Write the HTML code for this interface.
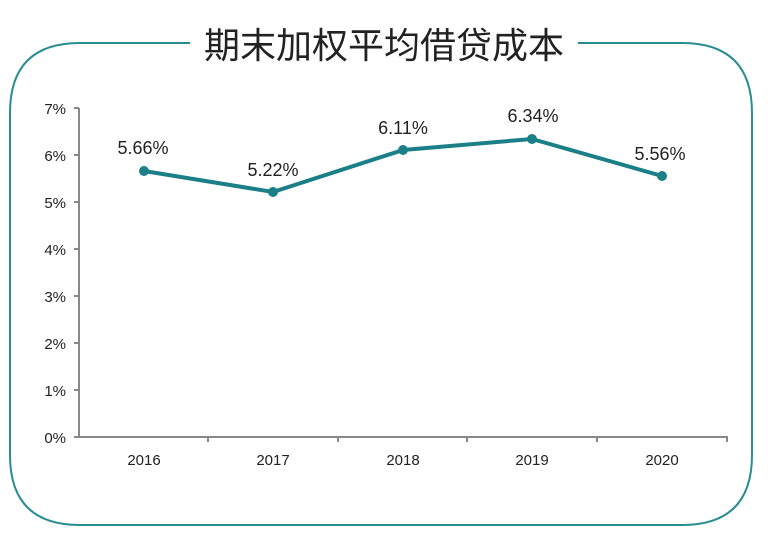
<!DOCTYPE html>
<html><head><meta charset="utf-8"><style>
body{margin:0;background:#fff;}
svg{display:block;font-family:"Liberation Sans","Noto Sans CJK SC",sans-serif;}
</style></head><body>
<svg width="770" height="547" viewBox="0 0 770 547">
<path d="M190 43 H80 Q10 43 10 113 V455 Q10 525 80 525 H682 Q752 525 752 455 V113 Q752 43 682 43 H578" fill="none" stroke="#2a8d92" stroke-width="2"/>
<text x="384" y="58" text-anchor="middle" font-size="36" fill="#222" font-family="'Noto Sans CJK SC',sans-serif">期末加权平均借贷成本</text>
<g stroke="#888" stroke-width="2" fill="none">
<line x1="79" y1="108" x2="79" y2="438"/>
<line x1="78" y1="437" x2="728" y2="437"/>
<path d="M74 108H79M74 155H79M74 202H79M74 249H79M74 296H79M74 343H79M74 390H79M74 437H79"/>
<path d="M208 437V442M338 437V442M467 437V442M597 437V442M727 437V442"/>
</g>
<g font-size="15" fill="#222" text-anchor="end">
<text x="66" y="114">7%</text><text x="66" y="161">6%</text><text x="66" y="208">5%</text><text x="66" y="255">4%</text><text x="66" y="302">3%</text><text x="66" y="349">2%</text><text x="66" y="396">1%</text><text x="66" y="443">0%</text>
</g>
<g font-size="15" fill="#222" text-anchor="middle">
<text x="144" y="465">2016</text><text x="273" y="465">2017</text><text x="403" y="465">2018</text><text x="532" y="465">2019</text><text x="662" y="465">2020</text>
</g>
<polyline points="144,171 273,192 403,150 532,139 662,176" fill="none" stroke="#1b7f87" stroke-width="4"/>
<g fill="#1b7f87"><circle cx="144" cy="171" r="5"/><circle cx="273" cy="192" r="5"/><circle cx="403" cy="150" r="5"/><circle cx="532" cy="139" r="5"/><circle cx="662" cy="176" r="5"/></g>
<g font-size="18" fill="#222" text-anchor="middle">
<text x="143" y="154">5.66%</text><text x="273" y="176">5.22%</text><text x="403" y="134">6.11%</text><text x="533" y="122">6.34%</text><text x="660" y="160">5.56%</text>
</g>
</svg>
</body></html>
